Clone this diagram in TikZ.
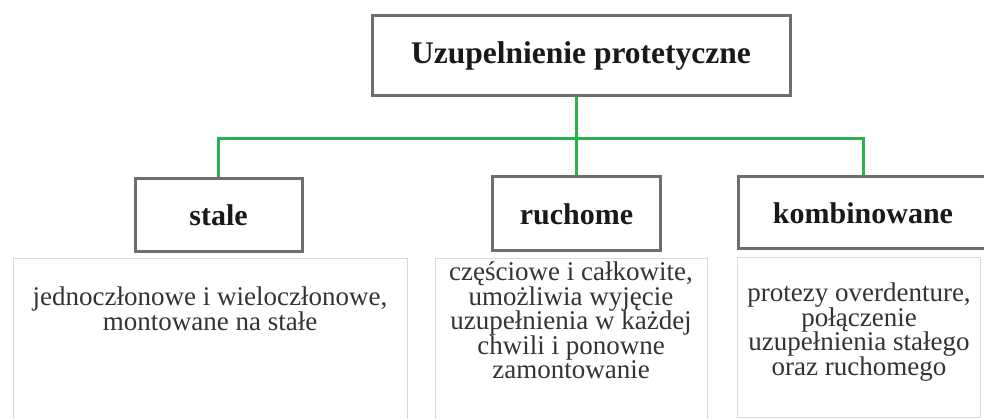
\documentclass[tikz,border=0pt]{standalone}
\usepackage{fontspec}
\setmainfont{Liberation Serif}
\usepackage{xcolor}
\usepackage{tikz}
\usetikzlibrary{positioning}

\definecolor{linkgreen}{HTML}{2BB24C}
\definecolor{boxgray}{HTML}{6E6E6E}
\definecolor{descgray}{HTML}{D9D9D9}
\newcommand{\desctext}{\fontsize{27}{24.5}\selectfont\setlength{\lineskiplimit}{-30pt}}

\begin{document}
\begin{tikzpicture}[x=1pt,y=-1pt]
        \useasboundingbox[fill=white] (0,0) rectangle (984,419);
        % description boxes
        \begin{scope}[every node/.style={draw=descgray,line width=1.2pt,inner sep=0pt,anchor=north west}]
          \node[minimum width=394pt,minimum height=180pt] (stdesc) at (13,258) {};
          \node[minimum width=272pt,minimum height=180pt] (rudesc) at (435,258) {};
          \node[minimum width=243pt,minimum height=160pt] (kodesc) at (737,257) {};
        \end{scope}
        \begin{scope}[every node/.style={align=center,inner sep=0pt,anchor=north,text=black!80,font=\desctext}]
          \node (sttxt) at (210,287) {jednoczłonowe i wieloczłonowe,\\montowane na stałe};
          \node (rutxt) at (571,262) {częściowe i całkowite,\\umożliwia wyjęcie\\uzupełnienia w każdej\\chwili i ponowne\\zamontowanie};
          \node (kotxt) at (859,283) {protezy overdenture,\\połączenie\\uzupełnienia stałego\\oraz ruchomego};
        \end{scope}
        % heading boxes
        \begin{scope}[every node/.style={draw=boxgray,line width=3pt,fill=white,inner sep=0pt,
            text=black!90,font=\bfseries\fontsize{30}{34}\selectfont}]
          \node[minimum width=418pt,minimum height=80pt,font=\bfseries\fontsize{31.5}{35}\selectfont] (top) at (581,56) {Uzupelnienie protetyczne};
          \node[minimum width=167pt,minimum height=73pt] (st) at (218.5,215.5) {stale};
          \node[minimum width=168pt,minimum height=74pt] (ru) at (576.5,214) {ruchome};
          \node[minimum width=250pt,minimum height=72pt] (ko) at (863,213) {kombinowane};
        \end{scope}
        \coordinate (bus) at (576.5,138.5);
        \begin{scope}[every path/.style={draw=linkgreen,line width=3pt}]
          \path (top.south -| ru.north) edge (ru.north);
          \draw (st.north) |- (bus) -| (ko.north);
        \end{scope}
      \end{tikzpicture}
\end{document}
